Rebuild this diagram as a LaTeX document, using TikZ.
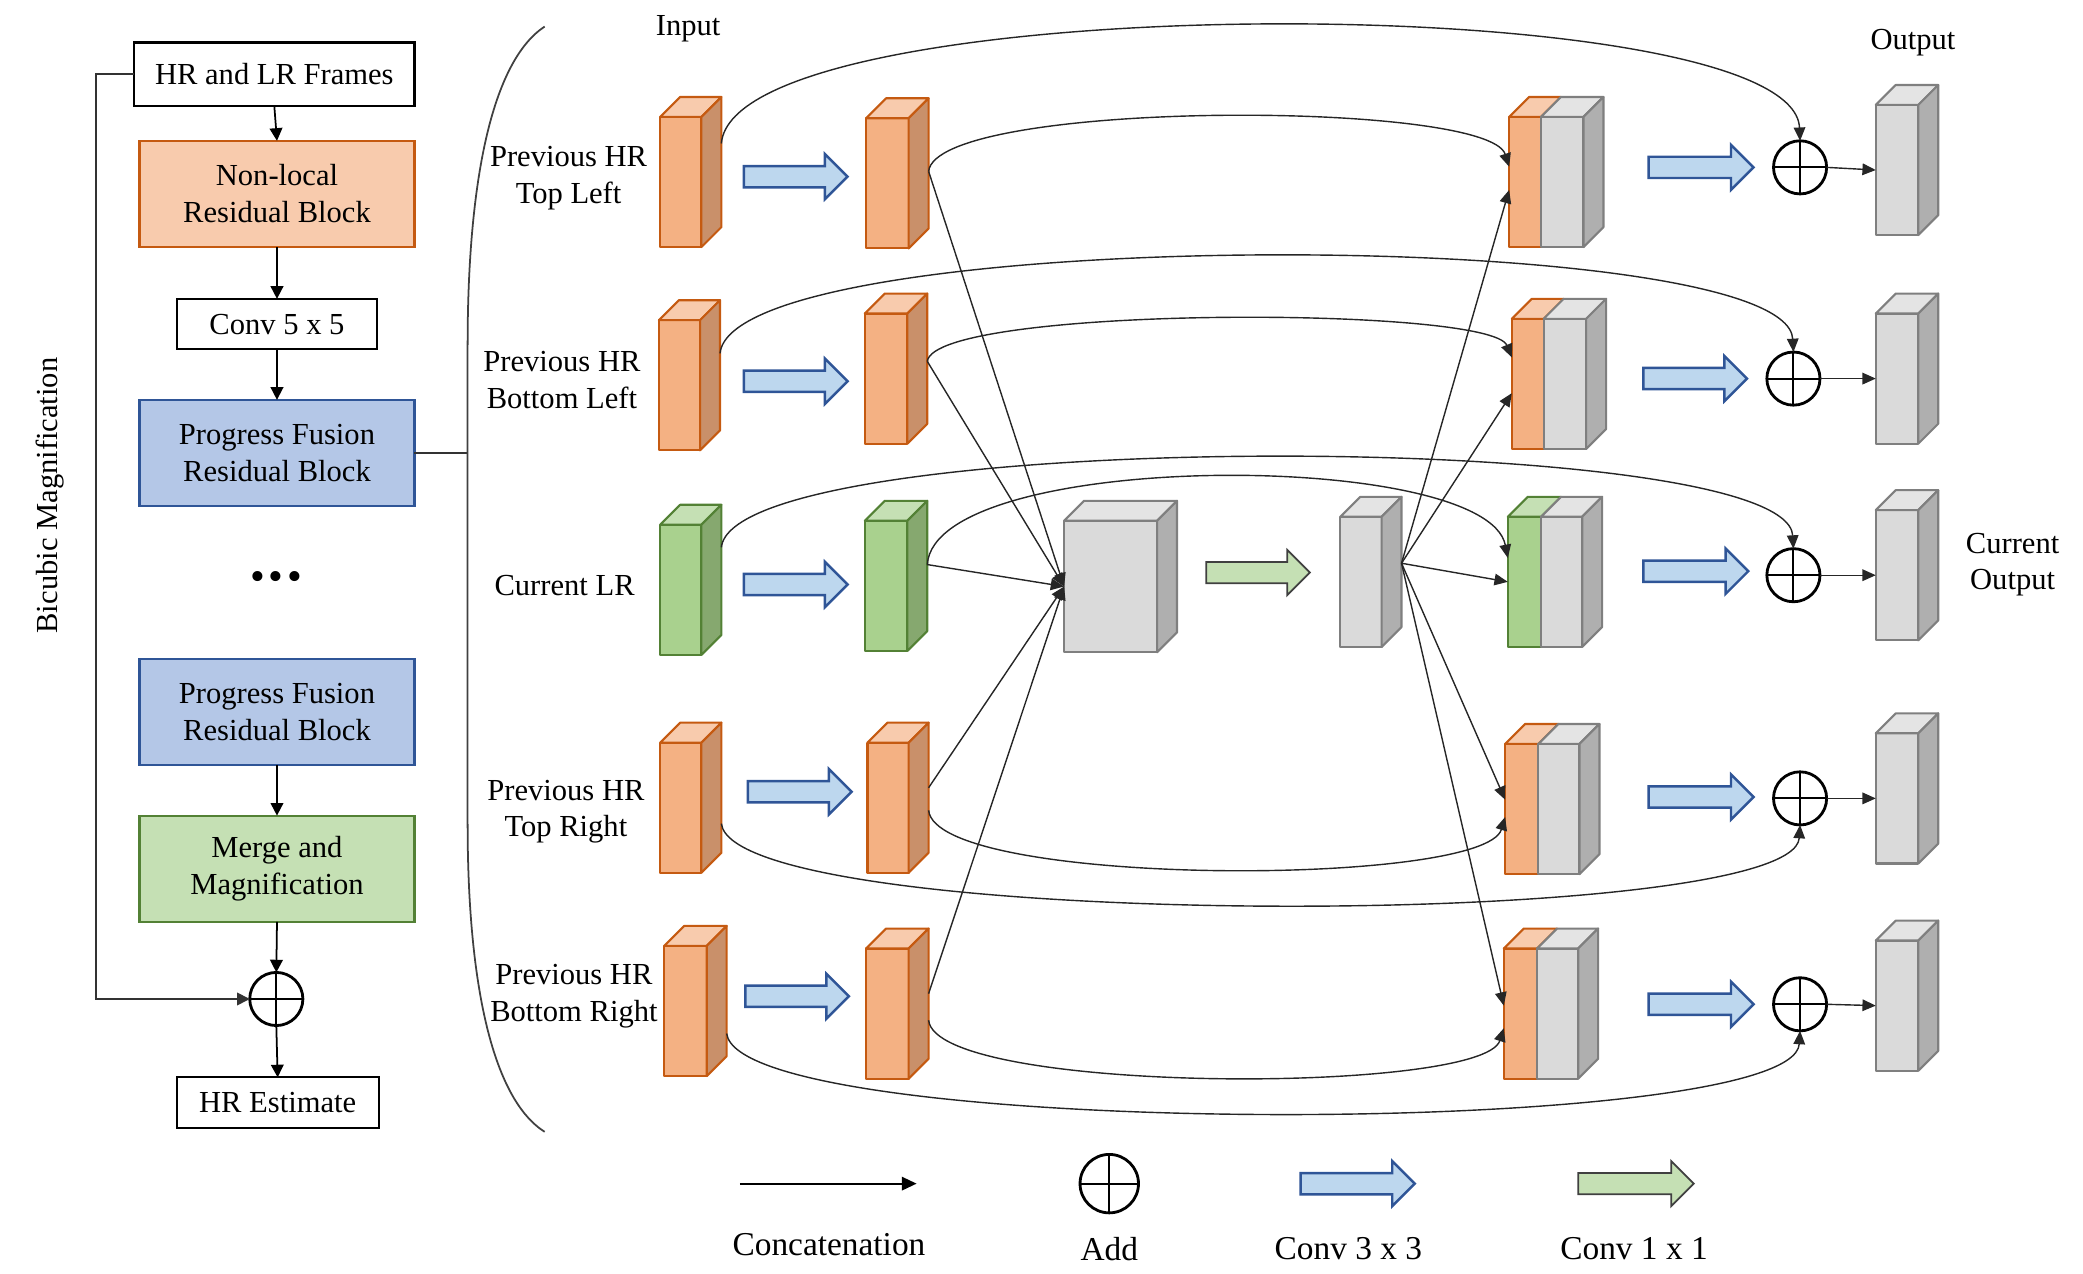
\documentclass[tikz,border=0pt]{standalone}
\usepackage{fontspec}
\setmainfont{Liberation Serif}
\usetikzlibrary{arrows.meta}
\definecolor{orF}{HTML}{F4B183}
\definecolor{orT}{HTML}{F8CBAD}
\definecolor{orS}{HTML}{C9906A}
\definecolor{orD}{HTML}{C55A11}
\definecolor{grF}{HTML}{A9D18E}
\definecolor{grT}{HTML}{C5E0B4}
\definecolor{grS}{HTML}{86A86F}
\definecolor{grD}{HTML}{538135}
\definecolor{gyF}{HTML}{DADADA}
\definecolor{gyT}{HTML}{E4E4E4}
\definecolor{gyS}{HTML}{AFAFAF}
\definecolor{gyD}{HTML}{7F7F7F}
\definecolor{blF}{HTML}{BDD7EE}
\definecolor{blD}{HTML}{2F5597}
\definecolor{pfF}{HTML}{B4C7E7}
\definecolor{nlF}{HTML}{F8CBAD}
\definecolor{mgF}{HTML}{C5E0B4}
\definecolor{lnC}{HTML}{262626}
\def\uu{0.013284cm}
\tikzset{
  fc/.style={draw=#1D, fill=#1F, line width=0.6pt, line join=round},
  topc/.style={draw=#1D, fill=#1T, line width=0.6pt, line join=round},
  sidec/.style={draw=#1D, fill=#1S, line width=0.6pt, line join=round},
  conn/.style={draw=lnC, line width=0.4pt, -{Triangle[length=3.8pt,width=3.3pt]}},
  larr/.style={draw=black, line width=0.5pt, -{Triangle[length=3.6pt,width=3.6pt]}},
  lbox/.style={draw=black, line width=0.6pt, align=center, inner sep=0pt, outer sep=0pt},
  addc/.style={circle, draw=black, line width=0.8pt, minimum size=40*\uu, inner sep=0pt, outer sep=0pt,
    path picture={\draw[line width=0.6pt] (path picture bounding box.north) -- (path picture bounding box.south)
      (path picture bounding box.west) -- (path picture bounding box.east);}},
  blarr/.style={draw=blD, fill=blF, line width=0.7pt, line join=miter},
  grarr/.style={draw=black!75, fill=mgF, line width=0.5pt, line join=miter},
  lab/.style={align=center, inner sep=0pt},
}
% plain cuboid: name, x1, y1, x2, y2, colour prefix
\newcommand\cubo[6]{%
  \node[fc=#6, inner sep=0pt, outer sep=0pt, minimum width={(#4-#2)*\uu}, minimum height={(#5-#3)*\uu}] (#1) at ({(#2+#4)/2},{(#3+#5)/2}) {};
  \filldraw[topc=#6] (#1.north west) -- ++(15,-15) -- ++({#4-#2},0) -- (#1.north east) -- cycle;
  \filldraw[sidec=#6] (#1.north east) -- ++(15,-15) -- ++(0,{#5-#3}) -- (#1.south east) -- cycle;
}
% concatenated cuboid: name, x1, xm, x2, y1, y2, colour prefix of left part
\newcommand\ccubo[7]{%
  \node[inner sep=0pt, outer sep=0pt, minimum width={(#4-#2)*\uu}, minimum height={(#6-#5)*\uu}] (#1) at ({(#2+#4)/2},{(#5+#6)/2}) {};
  \filldraw[fc=#7] (#2,#5) rectangle (#3,#6);
  \filldraw[topc=#7] (#2,#5) -- ++(15,-15) -- (#3+15,#5-15) -- (#3,#5) -- cycle;
  \filldraw[fc=gy] (#3,#5) rectangle (#4,#6);
  \filldraw[topc=gy] (#3,#5) -- ++(15,-15) -- (#4+15,#5-15) -- (#4,#5) -- cycle;
  \filldraw[sidec=gy] (#4,#5) -- ++(15,-15) -- (#4+15,#6-15) -- (#4,#6) -- cycle;
}
% block arrow: style, x1, x2, y
\newcommand\fatarr[4]{%
  \filldraw[#1] (#2,#4-8) -- (#3-17,#4-8) -- (#3-17,#4-17) -- (#3,#4) -- (#3-17,#4+17) -- (#3-17,#4+8) -- (#2,#4+8) -- cycle;
}
\begin{document}
\begin{tikzpicture}[x=0.013284cm, y=-0.013284cm, font=\fontsize{8.7}{10.5}\selectfont]
\useasboundingbox (0,0) rectangle (1568,959);

% ---------------- left column ----------------
\node[lbox, minimum width=211*\uu, minimum height=48*\uu] (HRLR) at (206.5,56) {HR and LR Frames};
\node[lbox, draw=orD, fill=nlF, minimum width=207*\uu, minimum height=80*\uu] (NL) at (208.5,146) {Non-local\\Residual Block};
\node[lbox, minimum width=151*\uu, minimum height=38*\uu] (CV) at (208.5,244) {Conv 5 x 5};
\node[lbox, draw=blD, fill=pfF, minimum width=207*\uu, minimum height=80*\uu] (PF1) at (208.5,341) {Progress Fusion\\Residual Block};
\node[inner sep=0pt] (dots) at (208,437) {\fontsize{12}{13}\selectfont \textbullet\hspace{1pt}\textbullet\hspace{1pt}\textbullet};
\node[lbox, draw=blD, fill=pfF, minimum width=207*\uu, minimum height=80*\uu] (PF2) at (208.5,536) {Progress Fusion\\Residual Block};
\node[lbox, draw=grD, fill=mgF, minimum width=207*\uu, minimum height=80*\uu] (MM) at (208.5,654) {Merge and\\Magnification};
\node[addc] (ADD0) at (208,752) {};
\node[lbox, minimum width=152*\uu, minimum height=38*\uu] (HRE) at (209,830) {HR Estimate};
\node[rotate=90, inner sep=0pt] (bic) at (38,373) {Bicubic Magnification};

\draw[larr] (HRLR.south) -- (NL.north);
\draw[larr] (NL.south) -- (CV.north);
\draw[larr] (CV.south) -- (PF1.north);
\draw[larr] (PF2.south) -- (MM.north);
\draw[larr] (MM.south) -- (ADD0.north);
\draw[larr] (ADD0.south) -- (HRE.north);
\draw[larr, draw=black!80] (HRLR.west) -- ++(-29,0) |- (ADD0.west);

% brace
\coordinate (brc) at (352,341);
\draw[draw=black!80, line width=0.5pt] (PF1.east) -- (brc);
\draw[draw=black!75, line width=0.5pt] (410,20) .. controls (372,45) and (352,130) .. (352,260) -- (352,620) .. controls (352,745) and (372,828) .. (410,852);

% ---------------- labels ----------------
\node[lab] (tIn) at (518,22) {Input};
\node[lab] (tOut) at (1440,32) {Output};
\node[lab] (r1) at (428,134) {Previous HR\\Top Left};
\node[lab] (r2) at (423,286) {Previous HR\\Bottom Left};
\node[lab] (r3) at (425,441) {Current LR};
\node[lab] (r4) at (426,611) {Previous HR\\Top Right};
\node[lab] (r5) at (432,750) {Previous HR\\Bottom Right};
\node[lab] (cur) at (1515,425) {Current\\Output};

% ---------------- cuboids ----------------
\cubo{A1}{497}{88}{528}{186}{or}
\cubo{A2}{496}{241}{527}{339}{or}
\cubo{A3}{497}{395}{528}{493}{gr}
\cubo{A4}{497}{559}{528}{657}{or}
\cubo{A5}{500}{712}{532}{810}{or}
\cubo{B1}{652}{89}{684}{187}{or}
\cubo{B2}{651}{236}{683}{334}{or}
\cubo{B3}{651}{392}{683}{490}{gr}
\cubo{B4}{653}{559}{684}{657}{or}
\cubo{B5}{652}{714}{684}{812}{or}
\cubo{E}{801}{392}{871}{491}{gy}
\cubo{F}{1009}{389}{1040}{487}{gy}
\ccubo{C1}{1136}{1160}{1192}{88}{186}{or}
\ccubo{C2}{1138}{1162}{1194}{240}{338}{or}
\ccubo{C3}{1135}{1160}{1191}{389}{487}{gr}
\ccubo{C4}{1133}{1158}{1189}{560}{658}{or}
\ccubo{C5}{1132}{1157}{1188}{714}{812}{or}
\cubo{D1}{1412}{79}{1444}{177}{gy}
\cubo{D2}{1412}{236}{1444}{334}{gy}
\cubo{D3}{1412}{384}{1444}{482}{gy}
\cubo{D4}{1412}{552}{1444}{650}{gy}
\cubo{D5}{1412}{708}{1444}{806}{gy}

% block arrows
\fatarr{blarr}{560}{638}{133}
\fatarr{blarr}{560}{638}{287}
\fatarr{blarr}{560}{638}{440}
\fatarr{blarr}{563}{641}{596}
\fatarr{blarr}{561}{639}{750}
\fatarr{blarr}{1241}{1320}{126}
\fatarr{blarr}{1237}{1315}{285}
\fatarr{blarr}{1237}{1316}{430}
\fatarr{blarr}{1241}{1320}{600}
\fatarr{blarr}{1241}{1320}{756}
\fatarr{grarr}{908}{986}{431}

% add nodes
\node[addc] (P1) at (1355,126) {};
\node[addc] (P2) at (1350,285) {};
\node[addc] (P3) at (1350,433) {};
\node[addc] (P4) at (1355,601) {};
\node[addc] (P5) at (1355,756) {};

% ---------------- connection points ----------------
\coordinate (A1o) at ([shift={(15,-29)}]A1.east);
\coordinate (A2o) at ([shift={(15,-24)}]A2.east);
\coordinate (A3o) at ([shift={(15,-32)}]A3.east);
\coordinate (A4o) at ([shift={(15,12)}]A4.east);
\coordinate (A5o) at ([shift={(15,17)}]A5.east);
\coordinate (B1o) at ([shift={(15,-9)}]B1.east);
\coordinate (B2o) at ([shift={(15,-13)}]B2.east);
\coordinate (B3o) at ([shift={(15,-16)}]B3.east);
\coordinate (B4s) at ([shift={(15,-15)}]B4.east);
\coordinate (B4c) at ([shift={(15,2)}]B4.east);
\coordinate (B5s) at ([shift={(15,-15)}]B5.east);
\coordinate (B5c) at ([shift={(15,5)}]B5.east);
\coordinate (Fo) at ([shift={(15,-14)}]F.east);
\coordinate (C1c) at ([shift={(0,-11.5)}]C1.west);
\coordinate (C1s) at ([shift={(0,6)}]C1.west);
\coordinate (C2c) at ([shift={(0,-20)}]C2.west);
\coordinate (C2s) at ([shift={(0,7)}]C2.west);
\coordinate (C3c) at ([shift={(0,-18)}]C3.west);
\coordinate (C3s) at (C3.west);
\coordinate (C4s) at ([shift={(0,-7)}]C4.west);
\coordinate (C4c) at ([shift={(0,6)}]C4.west);
\coordinate (C5s) at ([shift={(0,-6)}]C5.west);
\coordinate (C5c) at ([shift={(0,11)}]C5.west);

% long skip curves to the adders
\draw[conn] (A1o) .. controls (553,-10) and (1350,-10) .. (P1.north);
\draw[conn] (A2o) .. controls (552,169) and (1345,169) .. (P2.north);
\draw[conn] (A3o) .. controls (553,322) and (1345,322) .. (P3.north);
\draw[conn] (A4o) .. controls (553,701) and (1350,701) .. (P4.south);
\draw[conn] (A5o) .. controls (557,858) and (1350,858) .. (P5.south);

% feature curves to concatenations
\draw[conn] (B1o) .. controls (705,75) and (1120,75) .. (C1c);
\draw[conn] (B2o) .. controls (704,230) and (1122,230) .. (C2c);
\draw[conn] (B3o) .. controls (704,338) and (1119,338) .. (C3c);
\draw[conn] (B4c) .. controls (705,668) and (1117,668) .. (C4c);
\draw[conn] (B5c) .. controls (705,824) and (1116,824) .. (C5c);

% fusion
\draw[conn] (B1o) -- (E.west);
\draw[conn] (B2o) -- (E.west);
\draw[conn] (B3o) -- (E.west);
\draw[conn] (B4s) -- (E.west);
\draw[conn] (B5s) -- (E.west);
\draw[conn] (Fo) -- (C1s);
\draw[conn] (Fo) -- (C2s);
\draw[conn] (Fo) -- (C3s);
\draw[conn] (Fo) -- (C4s);
\draw[conn] (Fo) -- (C5s);

% adders to outputs
\draw[conn] (P1.east) -- (D1.west);
\draw[conn] (P2.east) -- (D2.west);
\draw[conn] (P3.east) -- (D3.west);
\draw[conn] (P4.east) -- (D4.west);
\draw[conn] (P5.east) -- (D5.west);

% ---------------- legend ----------------
\coordinate (lgA) at (557,891);
\coordinate (lgB) at (690,891);
\draw[draw=black, line width=0.6pt, -{Triangle[length=4.2pt,width=3.8pt]}] (lgA) -- (lgB);
\node[addc, minimum size=44*\uu] (lgAdd) at (835,891) {};
\fatarr{blarr}{979}{1065}{891}
\fatarr{grarr}{1188}{1275}{891}
\begin{scope}[font=\fontsize{9.5}{11}\selectfont]
\node[lab] (lgt1) at (624,937) {Concatenation};
\node[lab] (lgt2) at (835,940) {Add};
\node[lab] (lgt3) at (1015,940) {Conv 3 x 3};
\node[lab] (lgt4) at (1230,940) {Conv 1 x 1};
\end{scope}
\end{tikzpicture}
\end{document}
